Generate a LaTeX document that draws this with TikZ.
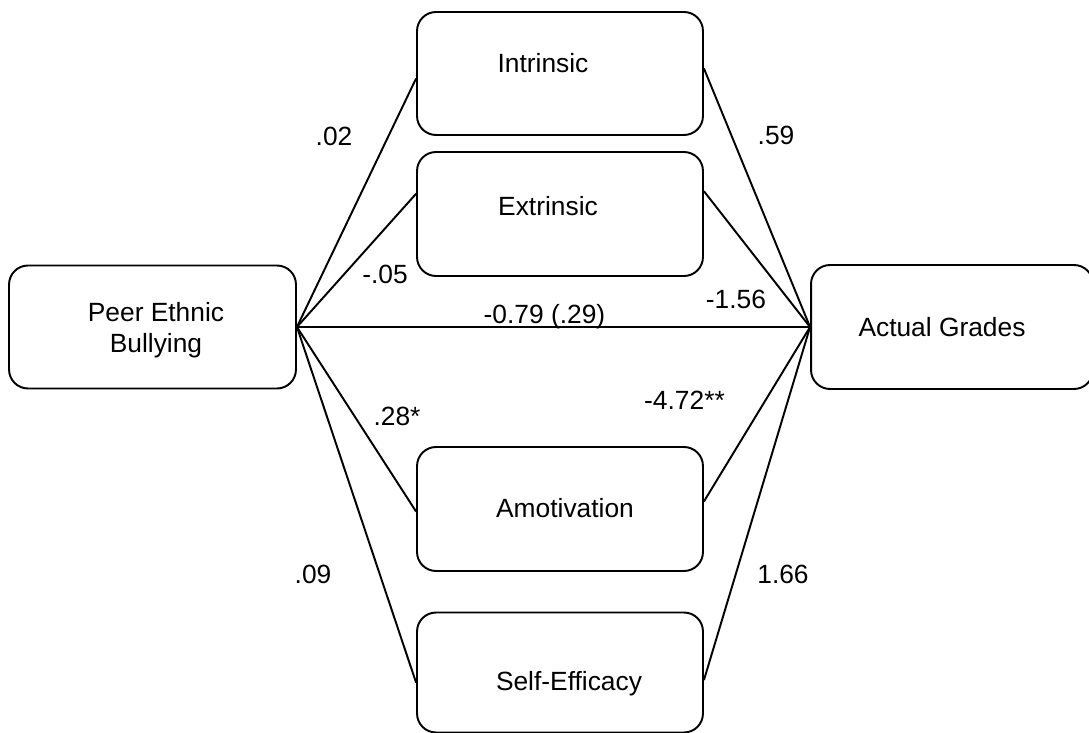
\documentclass[tikz,border=0pt]{standalone}
\usepackage{fontspec}
\setmainfont{Liberation Sans}
\usepackage{tikz}
\usetikzlibrary{calc}

\tikzset{
  varbox/.style={draw, rounded corners=0.38cm, line width=1.1pt,
    minimum width=5.72cm, minimum height=2.46cm, inner sep=0pt},
  boxtext/.style={anchor=base, inner sep=0pt, font=\fontsize{15}{17.6}\selectfont},
  coef/.style={anchor=base, inner sep=0pt, font=\fontsize{15}{17.6}\selectfont},
  link/.style={line width=1.1pt}
}

\begin{document}
\begin{tikzpicture}[x=0.02cm, y=-0.02cm]
  \useasboundingbox (0,0) rectangle (1089,733);

  % boxes
  \node[varbox, minimum width=5.74cm] (peb) at (152.5,327) {};
  \node[varbox, minimum width=5.64cm, minimum height=2.48cm] (grades) at (952,327) {};
  \node[varbox] (intr) at (560,73.5) {};
  \node[varbox, minimum height=2.48cm] (extr) at (560,214) {};
  \node[varbox, minimum height=2.48cm] (amot) at (560,509) {};
  \node[varbox, minimum height=2.4cm] (selfeff) at (560,672.5) {};

  % box texts
  \node[boxtext, anchor=center, align=center] (pebtxt) at (156,330) {Peer Ethnic\\Bullying};
  \node[boxtext] (gradestxt) at (942,337) {Actual Grades};
  \node[boxtext] (intrtxt) at (543,73) {Intrinsic};
  \node[boxtext] (extrtxt) at (548,216) {Extrinsic};
  \node[boxtext] (amottxt) at (565,517) {Amotivation};
  \node[boxtext] (selfefftxt) at (569,690) {Self-Efficacy};

  % paths
  \draw[link] (peb.east) -- (intr.182);
  \draw[link] (peb.east) -- (extr.172);
  \draw[link] (peb.east) -- (grades.west);
  \draw[link] (peb.east) -- (amot.181);
  \draw[link] (peb.east) -- (selfeff.184);
  \draw[link] (intr.2) -- (grades.west);
  \draw[link] (extr.9) -- (grades.west);
  \draw[link] (amot.3) -- (grades.west);
  \draw[link] (selfeff.-3) -- (grades.west);

  % coefficients
  \node[coef] (a1) at (334,146) {.02};
  \node[coef] (a2) at (385,284) {-.05};
  \node[coef] (a3) at (397,425) {.28*};
  \node[coef] (a4) at (313,583) {.09};
  \node[coef] (b1) at (776,145) {.59};
  \node[coef] (b2) at (736,309) {-1.56};
  \node[coef] (b3) at (684.5,409) {-4.72**};
  \node[coef] (b4) at (783,583) {1.66};
  \node[coef] (c) at (544.5,323) {-0.79 (.29)};
\end{tikzpicture}
\end{document}
